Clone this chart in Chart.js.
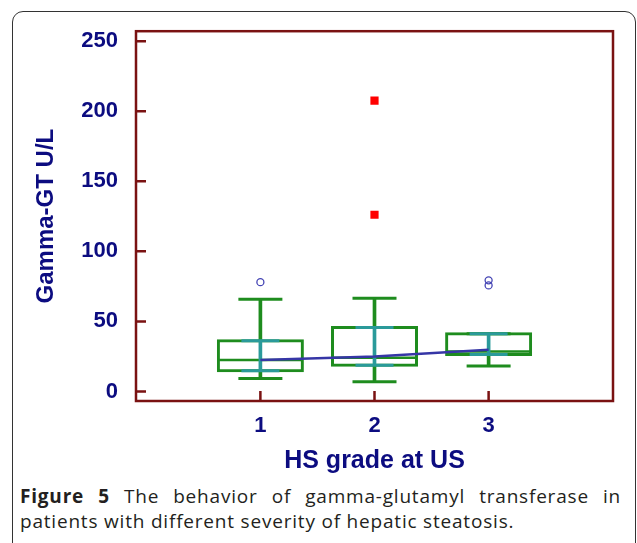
<!DOCTYPE html>
<html>
<head>
<meta charset="utf-8">
<script src="https://cdn.jsdelivr.net/npm/chart.js@4"></script>
<style>
  body { margin: 0; background: #fff; width: 637px; height: 543px; overflow: hidden; position: relative; }
  #frame { position: absolute; left: 12px; top: 11px; width: 622px; height: 560px; border: 1.5px solid #333; border-radius: 11px; }
  #wrap { position: absolute; left: 0; top: 0; width: 637px; height: 480px; }
  #caption { position: absolute; left: 20px; top: 484px; width: 601px; font-family: "Open Sans", sans-serif; font-size: 19px; letter-spacing: 0.8px; line-height: 25px; color: #231f20; text-align: justify; text-align-last: left; }
  #caption b { font-weight: bold; }
</style>
</head>
<body>
<div id="frame"></div>
<div id="wrap"><canvas id="chart"></canvas></div>
<div id="caption"><b>Figure 5</b> The behavior of gamma-glutamyl transferase in patients with different severity of hepatic steatosis.</div>
<script>
// HS grade groups and tick labels
const groups = [1, 2, 3];
const xTicks = [1, 2, 3];
const yTicks = [0, 50, 100, 150, 200, 250];

// box plot values per group (U/L)
const q1 = [14.8, 18.8, 26.4];
const q3 = [36.2, 45.7, 41.2];
const medians = [22.4, 24.1, 28.6];
const whiskerLow = [9.3, 6.9, 18.1];
const whiskerHigh = [65.9, 66.6, 41.2];

// line through the groups
const trendValues = [22.4, 25.0, 29.8];

// outside values (circles) and far out values (red squares)
const outGroups = [1, 3, 3];
const outValues = [78.0, 79.3, 75.7];
const farGroups = [2, 2];
const farValues = [207.6, 126.1];

const green = '#1e8c1e';
const teal = '#2a9a9a';
const maroon = '#7a1212';
const navy = '#0c0c80';

const pts = (vals) => groups.map((g, i) => ({ x: g, y: vals[i] }));

// plot frame with inward tick marks
const framePlugin = {
    id: 'frame',
    afterDraw(chart) {
        const { ctx, chartArea: a, scales } = chart;
        ctx.save();
        ctx.strokeStyle = maroon;
        ctx.lineWidth = 2.5;
        ctx.strokeRect(a.left, a.top, a.right - a.left, a.bottom - a.top);
        ctx.beginPath();
        scales.y.ticks.forEach(t => {
            const py = scales.y.getPixelForValue(t.value);
            ctx.moveTo(a.left, py);
            ctx.lineTo(a.left + 10, py);
        });
        scales.x.ticks.forEach(t => {
            const px = scales.x.getPixelForValue(t.value);
            ctx.moveTo(px, a.bottom);
            ctx.lineTo(px, a.bottom - 10);
        });
        ctx.stroke();
        ctx.restore();
    }
};

const ctx = document.querySelector('#chart').getContext('2d');

new Chart(ctx, {
    type: 'bar',
    plugins: [framePlugin],
    data: {
        datasets: [
            {   // whiskers
                data: groups.map((g, i) => ({ x: g, y: [whiskerLow[i], whiskerHigh[i]] })),
                backgroundColor: green,
                barThickness: 3,
                grouped: false,
                order: 10
            },
            {   // boxes
                data: groups.map((g, i) => ({ x: g, y: [q1[i], q3[i]] })),
                backgroundColor: '#ffffff',
                borderColor: green,
                borderWidth: 3,
                borderSkipped: false,
                inflateAmount: 1.5,
                barThickness: 84,
                grouped: false,
                order: 9
            },
            {   // teal line inside the box
                data: groups.map((g, i) => ({ x: g, y: [q1[i], q3[i]] })),
                backgroundColor: teal,
                barThickness: 3,
                grouped: false,
                order: 7
            },
            {   // medians
                type: 'line',
                data: pts(medians),
                showLine: false,
                pointStyle: 'line',
                pointRadius: 42,
                pointBorderColor: green,
                pointBorderWidth: 2.5,
                order: 8
            },
            {   // whisker caps
                type: 'line',
                data: pts(whiskerLow).concat(pts(whiskerHigh)),
                showLine: false,
                pointStyle: 'line',
                pointRadius: 22,
                pointBorderColor: green,
                pointBorderWidth: 3,
                order: 8
            },
            {   // teal marks on box edges
                type: 'line',
                data: pts(q1).concat(pts(q3)),
                showLine: false,
                pointStyle: 'line',
                pointRadius: 19,
                pointBorderColor: teal,
                pointBorderWidth: 3,
                order: 6
            },
            {
                type: 'line',
                data: pts(trendValues),
                borderColor: '#3636a6',
                borderWidth: 2.5,
                pointRadius: 0,
                order: 2
            },
            {
                type: 'line',
                data: outGroups.map((g, i) => ({ x: g, y: outValues[i] })),
                showLine: false,
                pointStyle: 'circle',
                pointRadius: 3.5,
                pointBorderWidth: 1.3,
                pointBorderColor: '#4444b4',
                pointBackgroundColor: 'rgba(0,0,0,0)',
                order: 1
            },
            {
                type: 'line',
                data: farGroups.map((g, i) => ({ x: g, y: farValues[i] })),
                showLine: false,
                pointStyle: 'rect',
                pointRadius: 5.8,
                pointBorderWidth: 0,
                pointBackgroundColor: '#ff0000',
                order: 1
            }
        ]
    },
    options: {
        responsive: true,
        maintainAspectRatio: false,
        animation: false,
        events: [],
        layout: { autoPadding: false, padding: { top: 31, right: 24, left: 0, bottom: 0 } },
        plugins: { legend: { display: false }, tooltip: { enabled: false } },
        scales: {
            x: {
                type: 'linear',
                position: 'bottom',
                min: -0.09,
                max: 4.09,
                offset: false,
                afterBuildTicks: (s) => { s.ticks = xTicks.map(v => ({ value: v })); },
                afterFit: (s) => { s.height = 79; },
                grid: { offset: false, drawOnChartArea: false, drawTicks: false },
                border: { display: false },
                ticks: { color: navy, padding: 12, font: { family: 'Liberation Sans, Arial', size: 22, weight: 'bold' } },
                title: { display: true, text: 'HS grade at US', color: navy, padding: { top: 0, bottom: 4 }, font: { family: 'Liberation Sans, Arial', size: 25, weight: 'bold' } }
            },
            y: {
                type: 'linear',
                position: 'left',
                min: -6.8,
                max: 257.1,
                afterBuildTicks: (s) => { s.ticks = yTicks.map(v => ({ value: v })); },
                afterFit: (s) => { s.width = 136; },
                grid: { drawOnChartArea: false, drawTicks: false },
                border: { display: false },
                ticks: { color: navy, padding: 18, font: { family: 'Liberation Sans, Arial', size: 22, weight: 'bold' } },
                title: { display: true, text: 'Gamma-GT U/L', color: navy, padding: { top: 32, bottom: 0 }, font: { family: 'Liberation Sans, Arial', size: 24, weight: 'bold' } }
            }
        }
    }
});
</script>
</body>
</html>
